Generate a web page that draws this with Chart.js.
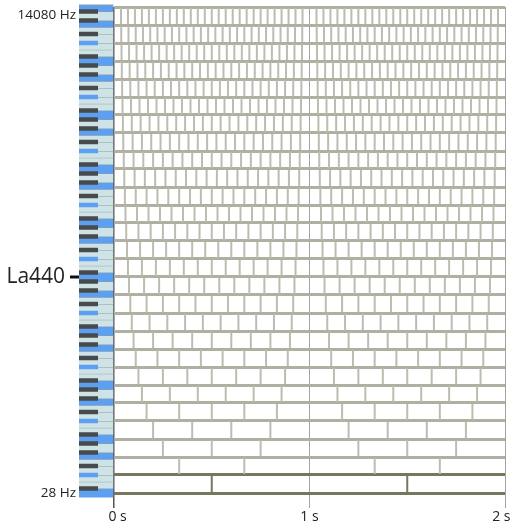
<!DOCTYPE html>
<html>
<head>
<meta charset="utf-8">
<script src="https://cdn.jsdelivr.net/npm/chart.js@4.4.1/dist/chart.umd.min.js"></script>
<style>
  html, body { margin: 0; padding: 0; background: #fff; }
  #wrap { width: 510px; height: 526px; }
</style>
</head>
<body>
<div id="wrap"><canvas id="chart" width="510" height="526"></canvas></div>
<script>
/* ===== DATA ===== */
// row edges, bottom to top (one row = 4 semitones)
const rowEdgesHz = [27.5, 34.65, 43.65, 55, 69.3, 87.31, 110, 138.59, 174.61, 220,
  277.18, 349.23, 440, 554.37, 698.46, 880, 1108.73, 1396.91, 1760, 2217.46,
  2793.83, 3520, 4434.92, 5587.65, 7040, 8869.84, 11175.3, 14080];
// bricks per second in each row, bottom to top
const bricksPerSecond = [2, 3, 4, 5, 6, 7, 8, 9, 10, 11, 12, 13, 14, 15, 16, 17,
  18, 19, 20, 21, 22, 23, 24, 25, 26, 27, 28];
const timeTicks = [0, 1, 2];
const timeLabels = ['0 s', '1 s', '2 s'];
const freqTicks = [27.5, 440, 14080];
const freqLabels = ['28 Hz', 'La440', '14080 Hz'];

// keyboard: A0 .. A9
const lowestKeyHz = 27.5;
const keyOctaves = 9;
const blackInOctave = [0, 1, 0, 0, 1, 0, 1, 0, 0, 1, 0, 1]; // starting from A
const markEveryKey = 4;

/* ===== COLOURS ===== */
const LINE = '#b0b0a2';
const DIV = '#bcbcb0';
const DARK = '#77775d';
const KEY_WHITE = '#cfe3e6';
const KEY_BLACK = '#474b4c';
const KEY_MARK = '#5d9ff0';

/* ===== BRICK DIVIDERS ===== */
const dividers = [];
bricksPerSecond.forEach((n, row) => {
  const mid = Math.sqrt(rowEdgesHz[row] * rowEdgesHz[row + 1]);
  for (let j = 1; j < 2 * n; j++) {
    if (j === n) continue; // the 1 s line is drawn by the grid
    dividers.push({ x: j / n, y: mid, row: row });
  }
});

/* ===== KEYBOARD PLUGIN ===== */
const keyboardPlugin = {
  id: 'keyboard',
  afterDraw(chart) {
    const { ctx, chartArea, scales: { y } } = chart;
    const right = chartArea.left - 0.75;
    const left = chartArea.left - 35;
    const blackW = 19;
    const nKeys = keyOctaves * 12 + 1;
    const pos = i => y.getPixelForValue(lowestKeyHz * Math.pow(2, i / 12));
    const isBlack = i => blackInOctave[i % 12] === 1;
    const semi = pos(0) - pos(1);
    ctx.save();
    // white keys
    for (let i = 0; i < nKeys; i++) {
      if (isBlack(i)) continue;
      const yc = pos(i);
      const below = (i === 0 || isBlack(i - 1)) ? yc + semi : yc + semi / 2;
      let above = (i === nKeys - 1 || isBlack(i + 1)) ? yc - semi : yc - semi / 2;
      above = Math.max(above, chartArea.top - 2);
      ctx.fillStyle = i % markEveryKey === 0 ? KEY_MARK : KEY_WHITE;
      ctx.fillRect(left, above, right - left, below - above);
      ctx.fillStyle = '#8a9ea1';
      ctx.fillRect(left, above - 0.5, right - left, 1);
    }
    // black keys
    for (let i = 0; i < nKeys; i++) {
      if (!isBlack(i)) continue;
      const yc = pos(i);
      ctx.fillStyle = i % markEveryKey === 0 ? KEY_MARK : KEY_BLACK;
      ctx.fillRect(left, yc - semi / 2, blackW, semi);
    }
    // La440 mark
    const y440 = y.getPixelForValue(440);
    ctx.fillStyle = '#111';
    ctx.fillRect(left - 9, y440 - 1.5, 9, 3);
    ctx.restore();
  }
};

/* ===== CHART ===== */
new Chart(document.getElementById('chart'), {
  type: 'scatter',
  data: {
    datasets: [{
      data: dividers,
      pointStyle: 'line',
      pointRotation: 90,
      pointRadius: 8,
      pointBorderWidth: 2,
      pointBorderColor: c => (c.raw && c.raw.row === 0) ? DARK : DIV
    }]
  },
  plugins: [keyboardPlugin],
  options: {
    responsive: false,
    devicePixelRatio: 1,
    animation: false,
    events: [],
    layout: { autoPadding: false, padding: { top: 7, right: 5, left: 0, bottom: 0 } },
    plugins: { legend: { display: false }, tooltip: { enabled: false } },
    scales: {
      x: {
        type: 'linear', min: 0, max: 2,
        afterBuildTicks: s => { s.ticks = timeTicks.map(v => ({ value: v })); },
        afterFit: s => { s.height = 33; s.paddingLeft = 0; s.paddingRight = 0; },
        border: { display: false },
        grid: {
          color: c => (c.tick && c.tick.value === 0) ? '#555' : '#a3a3a3',
          lineWidth: c => (c.tick && c.tick.value === 0) ? 1.5 : 1,
          tickLength: 15
        },
        ticks: {
          padding: 1, autoSkip: false, maxRotation: 0, color: '#222',
          font: { family: 'Open Sans', size: 14 },
          callback: v => {
            const i = timeTicks.indexOf(v);
            if (i < 0) return '';
            if (i === 0) return '\u00a0\u00a0' + timeLabels[i];
            if (i === timeTicks.length - 1) return timeLabels[i] + '\u00a0\u00a0';
            return timeLabels[i];
          }
        }
      },
      y: {
        type: 'logarithmic', min: 27.5, max: 14080,
        afterBuildTicks: s => { s.ticks = rowEdgesHz.map(v => ({ value: v })); },
        afterFit: s => { s.width = 114; s.paddingTop = 0; s.paddingBottom = 0; },
        border: { display: false },
        grid: {
          color: c => c.index <= 1 ? DARK : LINE,
          lineWidth: 3,
          drawTicks: false
        },
        ticks: {
          padding: 38, autoSkip: false, color: '#222',
          font: c => ({ family: 'Open Sans', size: (c.tick && c.tick.value === 440) ? 21 : 13.5 }),
          callback: v => {
            const i = freqTicks.indexOf(v);
            if (i < 0) return '';
            if (v === 14080) return ['', freqLabels[i]];
            if (v === 440) return freqLabels[i] + '\u00a0\u00a0';
            return freqLabels[i];
          }
        }
      }
    }
  }
});
</script>
</body>
</html>
